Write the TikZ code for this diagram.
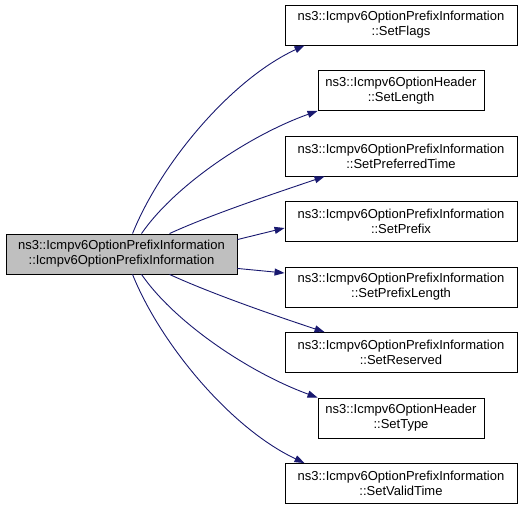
\documentclass[tikz,border=0pt]{standalone}
\usepackage{fontspec}
\setmainfont{Liberation Sans}
\usetikzlibrary{arrows.meta,calc}
\definecolor{edgeblue}{HTML}{191970}
\definecolor{mainfill}{HTML}{BFBFBF}
\begin{document}
\begin{tikzpicture}[x=1pt,y=-1pt,
  box/.style={draw=black,line width=0.9pt,fill=white,inner sep=0pt,minimum height=40pt,align=center,font=\fontsize{13}{15}\selectfont},
  wide/.style={box,minimum width=232pt},
  narrow/.style={box,minimum width=166pt},
  edge/.style={draw=edgeblue,line width=0.9pt,-{Triangle[length=10pt,width=7pt]}}]
\useasboundingbox (0,0) rectangle (523,508);
\node[box,fill=mainfill,minimum width=231pt] (main) at (121.5,254) {ns3::Icmpv6OptionPrefixInformation\\::Icmpv6OptionPrefixInformation};
\node[wide]   (flags) at (401,25)    {ns3::Icmpv6OptionPrefixInformation\\::SetFlags};
\node[narrow] (len)   at (401,90.5)  {ns3::Icmpv6OptionHeader\\::SetLength};
\node[wide]   (pref)  at (401,156)   {ns3::Icmpv6OptionPrefixInformation\\::SetPreferredTime};
\node[wide]   (prefix) at (401,221.5) {ns3::Icmpv6OptionPrefixInformation\\::SetPrefix};
\node[wide]   (plen)  at (401,287)   {ns3::Icmpv6OptionPrefixInformation\\::SetPrefixLength};
\node[wide]   (res)   at (401,352.5) {ns3::Icmpv6OptionPrefixInformation\\::SetReserved};
\node[narrow] (type)  at (401,418)   {ns3::Icmpv6OptionHeader\\::SetType};
\node[wide]   (valid) at (401,483.5) {ns3::Icmpv6OptionPrefixInformation\\::SetValidTime};
\draw[edge] ([xshift=127pt]main.north west) .. controls (160,165) and (230,80) .. ([xshift=20pt]flags.south west);
\draw[edge] ([xshift=136pt]main.north west) .. controls (175,185) and (250,135) .. ([xshift=0pt]len.south west);
\draw[edge] ([xshift=164pt]main.north west) .. controls (210,215) and (270,195) .. ([xshift=40pt]pref.south west);
\draw[edge] ([yshift=-6pt]main.north east) -- ([yshift=-6.5pt]prefix.west);
\draw[edge] ([yshift=6pt]main.south east) -- ([yshift=14pt]plen.west);
\draw[edge] ([xshift=164pt]main.south west) .. controls (210,293) and (270,314) .. ([xshift=40pt]res.north west);
\draw[edge] ([xshift=136pt]main.south west) .. controls (175,323) and (250,373) .. ([xshift=0pt]type.north west);
\draw[edge] ([xshift=127pt]main.south west) .. controls (160,343) and (230,428) .. ([xshift=20pt]valid.north west);
\end{tikzpicture}
\end{document}
